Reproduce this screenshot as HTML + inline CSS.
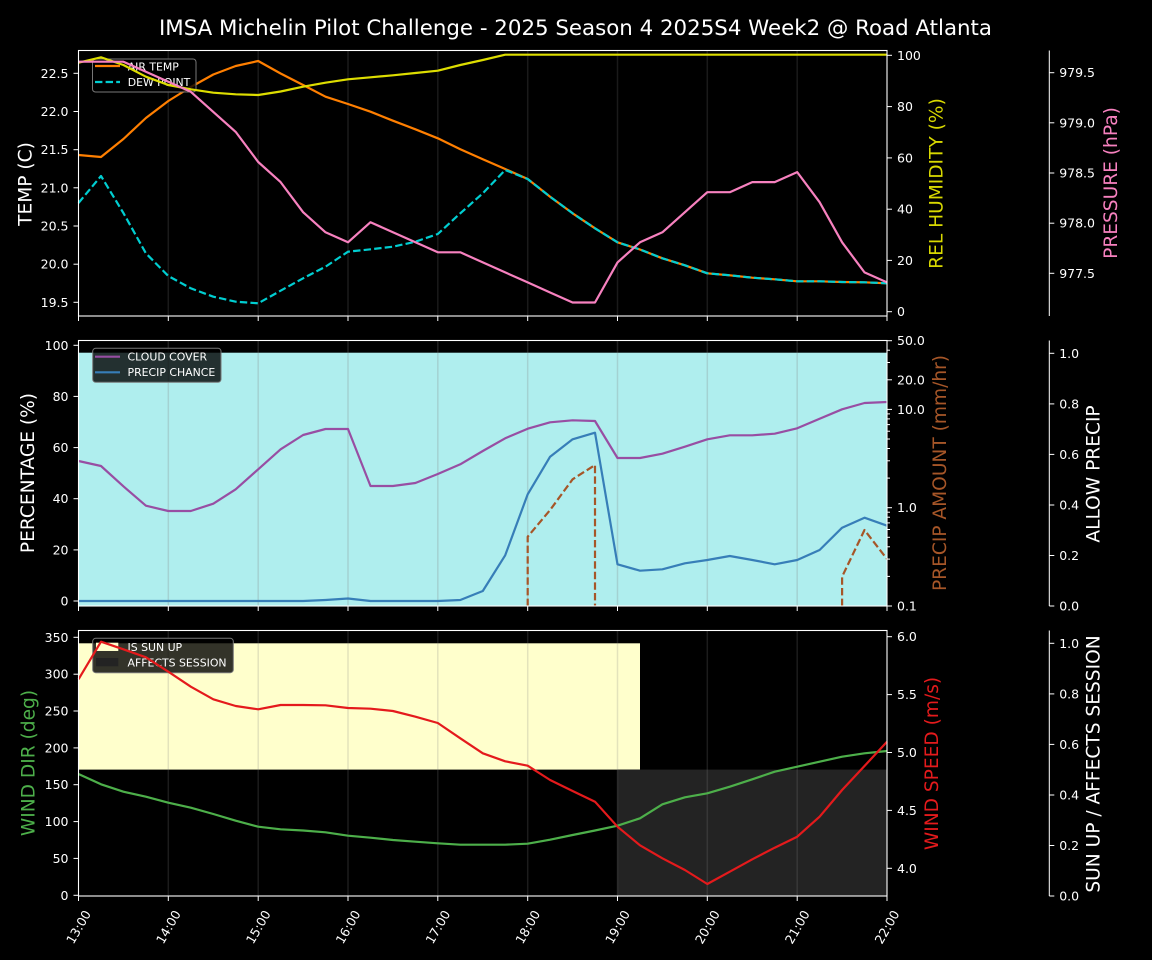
<!DOCTYPE html>
<html><head><meta charset="utf-8"><style>
html,body{margin:0;padding:0;background:#000;}
svg{display:block;font-family:"DejaVu Sans","Liberation Sans",sans-serif;}
</style></head><body>
<svg width="1152" height="960" viewBox="0 0 1152 960" xmlns="http://www.w3.org/2000/svg">
<rect x="0" y="0" width="1152" height="960" fill="#000"/>
<text x="575.5" y="35" font-size="21.5" fill="#fff" text-anchor="middle" textLength="833" lengthAdjust="spacingAndGlyphs">IMSA Michelin Pilot Challenge - 2025 Season 4 2025S4 Week2 @ Road Atlanta</text>

<!-- ============ PANEL 1 ============ -->
<g stroke="#808080" stroke-opacity="0.2" stroke-width="1.5">
<line x1="168.3" y1="50.5" x2="168.3" y2="316"/><line x1="258.2" y1="50.5" x2="258.2" y2="316"/><line x1="348" y1="50.5" x2="348" y2="316"/><line x1="437.8" y1="50.5" x2="437.8" y2="316"/><line x1="527.7" y1="50.5" x2="527.7" y2="316"/><line x1="617.5" y1="50.5" x2="617.5" y2="316"/><line x1="707.3" y1="50.5" x2="707.3" y2="316"/><line x1="797.2" y1="50.5" x2="797.2" y2="316"/>
</g>
<g fill="none" stroke-width="2.2" stroke-linejoin="round">
<polyline stroke="#ff7f00" points="78.5,155 101,157 123.4,139 145.9,118 168.3,101 190.8,87 213.3,74.5 235.7,66 258.2,61 280.6,73.5 303.1,85 325.5,96.7 348,104 370.5,111.7 392.9,120.7 415.4,129.3 437.8,138.3 460.3,149.3 482.8,159.3 505.2,169 527.7,179 550.1,196.7 572.6,213.3 595,228.3 617.5,242.3 640,249.5 662.4,258.3 684.9,265.3 707.3,273.3 729.8,275.3 752.3,277.7 774.7,279.3 797.2,281.3 819.6,281.3 842.1,282 864.5,282.3 887,283.3"/>
<polyline stroke="#00ced1" stroke-dasharray="7.4,3.2" points="78.5,203 101,176 123.4,213 145.9,253.3 168.3,276 190.8,288.3 213.3,296.7 235.7,301.7 258.2,303.3 280.6,290.7 303.1,278.3 325.5,266.7 348,251.7 370.5,249.3 392.9,246.7 415.4,241.7 437.8,234 460.3,213.3 482.8,193.3 505.2,170 527.7,179 550.1,196.7 572.6,213.3 595,228.3 617.5,242.3 640,249.5 662.4,258.3 684.9,265.3 707.3,273.3 729.8,275.3 752.3,277.7 774.7,279.3 797.2,281.3 819.6,281.3 842.1,282 864.5,282.3 887,283.3"/>
</g>
<!-- legend 1 -->
<rect x="92.5" y="59" width="103.5" height="33" rx="3" fill="#000" fill-opacity="0.8" stroke="#777" stroke-width="1"/>
<line x1="95" y1="66" x2="120" y2="66" stroke="#ff7f00" stroke-width="2.2"/>
<line x1="95" y1="82" x2="120" y2="82" stroke="#00ced1" stroke-width="2.2" stroke-dasharray="7.4,3.2"/>
<text x="127.7" y="70.5" font-size="10.9" fill="#fff">AIR TEMP</text>
<text x="127.7" y="86" font-size="10.9" fill="#fff">DEW POINT</text>
<g fill="none" stroke-width="2.2" stroke-linejoin="round">
<polyline stroke="#dddd00" points="78.5,62.7 101,57.3 123.4,65 145.9,76.7 168.3,85 190.8,89.3 213.3,92.7 235.7,94.3 258.2,95 280.6,91.5 303.1,86.7 325.5,82.7 348,79.3 370.5,77.3 392.9,75.3 415.4,73 437.8,70.7 460.3,65 482.8,60 505.2,54.7 887,54.7"/>
<polyline stroke="#f781bf" points="78.5,61.7 101,61.7 123.4,61.7 145.9,71.7 168.3,81.8 190.8,91.8 213.3,111.9 235.7,131.9 258.2,162 280.6,182.1 303.1,212.2 325.5,232.3 348,242.3 370.5,222.2 392.9,232.3 415.4,242.3 437.8,252.3 460.3,252.3 482.8,262.4 505.2,272.4 527.7,282.4 550.1,292.5 572.6,302.5 595,302.5 617.5,262.4 640,242.3 662.4,232.3 684.9,212.2 707.3,192.2 729.8,192.2 752.3,182.1 774.7,182.1 797.2,172.1 819.6,202.2 842.1,242.3 864.5,272.4 887,282.4"/>
</g>
<rect x="78.5" y="50.5" width="808.5" height="265.5" fill="none" stroke="#fff" stroke-width="1.1"/>
<g stroke="#fff" stroke-width="1">
<line x1="78.5" y1="316" x2="78.5" y2="321"/><line x1="168.3" y1="316" x2="168.3" y2="321"/><line x1="258.2" y1="316" x2="258.2" y2="321"/><line x1="348" y1="316" x2="348" y2="321"/><line x1="437.8" y1="316" x2="437.8" y2="321"/><line x1="527.7" y1="316" x2="527.7" y2="321"/><line x1="617.5" y1="316" x2="617.5" y2="321"/><line x1="707.3" y1="316" x2="707.3" y2="321"/><line x1="797.2" y1="316" x2="797.2" y2="321"/><line x1="887" y1="316" x2="887" y2="321"/>
<line x1="73.5" y1="73.3" x2="78.5" y2="73.3"/><line x1="73.5" y1="111.5" x2="78.5" y2="111.5"/><line x1="73.5" y1="149.7" x2="78.5" y2="149.7"/><line x1="73.5" y1="187.8" x2="78.5" y2="187.8"/><line x1="73.5" y1="226" x2="78.5" y2="226"/><line x1="73.5" y1="264.2" x2="78.5" y2="264.2"/><line x1="73.5" y1="302.3" x2="78.5" y2="302.3"/>
<line x1="887" y1="55.3" x2="892" y2="55.3"/><line x1="887" y1="106.6" x2="892" y2="106.6"/><line x1="887" y1="157.9" x2="892" y2="157.9"/><line x1="887" y1="209.2" x2="892" y2="209.2"/><line x1="887" y1="260.4" x2="892" y2="260.4"/><line x1="887" y1="311.7" x2="892" y2="311.7"/>
<line x1="1049.3" y1="50.5" x2="1049.3" y2="316"/>
<line x1="1049.3" y1="72.7" x2="1054.3" y2="72.7"/><line x1="1049.3" y1="122.8" x2="1054.3" y2="122.8"/><line x1="1049.3" y1="173" x2="1054.3" y2="173"/><line x1="1049.3" y1="223.2" x2="1054.3" y2="223.2"/><line x1="1049.3" y1="273.3" x2="1054.3" y2="273.3"/>
</g>
<g font-size="12.5" fill="#fff" text-anchor="end">
<text x="68.5" y="77.8">22.5</text><text x="68.5" y="116">22.0</text><text x="68.5" y="154.2">21.5</text><text x="68.5" y="192.3">21.0</text><text x="68.5" y="230.5">20.5</text><text x="68.5" y="268.7">20.0</text><text x="68.5" y="306.8">19.5</text>
</g>
<g font-size="12.5" fill="#fff">
<text x="897" y="59.8">100</text><text x="897" y="111.1">80</text><text x="897" y="162.4">60</text><text x="897" y="213.7">40</text><text x="897" y="264.9">20</text><text x="897" y="316.2">0</text>
<text x="1059.2" y="77.2">979.5</text><text x="1059.2" y="127.3">979.0</text><text x="1059.2" y="177.5">978.5</text><text x="1059.2" y="227.7">978.0</text><text x="1059.2" y="277.8">977.5</text>
</g>
<g font-size="18.6" text-anchor="middle">
<text transform="translate(31.5,184) rotate(-90)" fill="#fff">TEMP (C)</text>
<text transform="translate(942.5,183.5) rotate(-90)" fill="#d8d800">REL HUMIDITY (%)</text>
<text transform="translate(1117,183) rotate(-90)" fill="#f781bf">PRESSURE (hPa)</text>
</g>

<!-- ============ PANEL 2 ============ -->
<rect x="78.5" y="352.7" width="808.5" height="253.3" fill="#afeeee"/>
<g stroke="#808080" stroke-opacity="0.25" stroke-width="1.5">
<line x1="168.3" y1="340.5" x2="168.3" y2="606"/><line x1="258.2" y1="340.5" x2="258.2" y2="606"/><line x1="348" y1="340.5" x2="348" y2="606"/><line x1="437.8" y1="340.5" x2="437.8" y2="606"/><line x1="527.7" y1="340.5" x2="527.7" y2="606"/><line x1="617.5" y1="340.5" x2="617.5" y2="606"/><line x1="707.3" y1="340.5" x2="707.3" y2="606"/><line x1="797.2" y1="340.5" x2="797.2" y2="606"/>
</g>
<g fill="none" stroke-width="2.2" stroke-linejoin="round">
<polyline stroke="#984ea3" points="78.5,461 101,466 123.4,486.3 145.9,505.7 168.3,511 190.8,511 213.3,503.7 235.7,489.3 258.2,469.3 280.6,449.3 303.1,435 325.5,429 348,429 370.5,486 392.9,486 415.4,483 437.8,474 460.3,464.3 482.8,451 505.2,438.3 527.7,428.7 550.1,422.3 572.6,420.3 595,421 617.5,458 640,458 662.4,453.7 684.9,446.7 707.3,439.3 729.8,435.3 752.3,435.3 774.7,433.7 797.2,428.3 819.6,418.7 842.1,409.3 864.5,403 887,402"/>
<polyline stroke="#377eb8" points="78.5,601 101,601 123.4,601 145.9,601 168.3,601 190.8,601 213.3,601 235.7,601 258.2,601 280.6,601 303.1,601 325.5,600 348,598.5 370.5,601 392.9,601 415.4,601 437.8,601 460.3,600 482.8,591 505.2,555.3 527.7,494.3 550.1,456.7 572.6,439.3 595,432.7 617.5,564.3 640,570.7 662.4,569.3 684.9,563.3 707.3,560 729.8,556 752.3,560 774.7,564.3 797.2,560 819.6,550 842.1,527.7 864.5,517.7 887,525.7"/>
<polyline stroke="#a65628" stroke-dasharray="7.4,3.2" points="527.7,606 527.7,536.7 550.1,510 572.6,479.3 595,465 595,606"/>
<polyline stroke="#a65628" stroke-dasharray="7.4,3.2" points="842.1,606 842.1,576.7 864.5,530 887,559"/>
</g>
<!-- legend 2 -->
<rect x="92.7" y="348.3" width="128.3" height="34" rx="3" fill="#000" fill-opacity="0.8" stroke="#777" stroke-width="1"/>
<line x1="95" y1="356.7" x2="120" y2="356.7" stroke="#984ea3" stroke-width="2.2"/>
<line x1="95" y1="372.3" x2="120" y2="372.3" stroke="#377eb8" stroke-width="2.2"/>
<text x="127.5" y="360.3" font-size="10.9" fill="#fff">CLOUD COVER</text>
<text x="127.5" y="376" font-size="10.9" fill="#fff">PRECIP CHANCE</text>
<rect x="78.5" y="340.5" width="808.5" height="265.5" fill="none" stroke="#fff" stroke-width="1.1"/>
<g stroke="#fff" stroke-width="1">
<line x1="78.5" y1="606" x2="78.5" y2="611"/><line x1="168.3" y1="606" x2="168.3" y2="611"/><line x1="258.2" y1="606" x2="258.2" y2="611"/><line x1="348" y1="606" x2="348" y2="611"/><line x1="437.8" y1="606" x2="437.8" y2="611"/><line x1="527.7" y1="606" x2="527.7" y2="611"/><line x1="617.5" y1="606" x2="617.5" y2="611"/><line x1="707.3" y1="606" x2="707.3" y2="611"/><line x1="797.2" y1="606" x2="797.2" y2="611"/><line x1="887" y1="606" x2="887" y2="611"/>
<line x1="73.5" y1="345.3" x2="78.5" y2="345.3"/><line x1="73.5" y1="396.4" x2="78.5" y2="396.4"/><line x1="73.5" y1="447.6" x2="78.5" y2="447.6"/><line x1="73.5" y1="498.7" x2="78.5" y2="498.7"/><line x1="73.5" y1="549.9" x2="78.5" y2="549.9"/><line x1="73.5" y1="601" x2="78.5" y2="601"/>
<line x1="887" y1="340.7" x2="892" y2="340.7"/><line x1="887" y1="379.8" x2="892" y2="379.8"/><line x1="887" y1="409.4" x2="892" y2="409.4"/><line x1="887" y1="507.7" x2="892" y2="507.7"/><line x1="887" y1="606" x2="892" y2="606"/>
<line x1="887" y1="576.4" x2="890" y2="576.4"/><line x1="887" y1="559.1" x2="890" y2="559.1"/><line x1="887" y1="546.8" x2="890" y2="546.8"/><line x1="887" y1="537.3" x2="890" y2="537.3"/><line x1="887" y1="529.5" x2="890" y2="529.5"/><line x1="887" y1="522.9" x2="890" y2="522.9"/><line x1="887" y1="517.2" x2="890" y2="517.2"/><line x1="887" y1="512.2" x2="890" y2="512.2"/>
<line x1="887" y1="478.1" x2="890" y2="478.1"/><line x1="887" y1="460.8" x2="890" y2="460.8"/><line x1="887" y1="448.5" x2="890" y2="448.5"/><line x1="887" y1="439" x2="890" y2="439"/><line x1="887" y1="431.2" x2="890" y2="431.2"/><line x1="887" y1="424.6" x2="890" y2="424.6"/><line x1="887" y1="418.9" x2="890" y2="418.9"/><line x1="887" y1="413.9" x2="890" y2="413.9"/>
<line x1="887" y1="362.5" x2="890" y2="362.5"/><line x1="887" y1="350.2" x2="890" y2="350.2"/>
<line x1="1049.3" y1="340.5" x2="1049.3" y2="606"/>
<line x1="1049.3" y1="606" x2="1054.3" y2="606"/><line x1="1049.3" y1="555.5" x2="1054.3" y2="555.5"/><line x1="1049.3" y1="505" x2="1054.3" y2="505"/><line x1="1049.3" y1="454.4" x2="1054.3" y2="454.4"/><line x1="1049.3" y1="403.9" x2="1054.3" y2="403.9"/><line x1="1049.3" y1="353.3" x2="1054.3" y2="353.3"/>
</g>
<g font-size="12.5" fill="#fff" text-anchor="end">
<text x="68.5" y="349.8">100</text><text x="68.5" y="400.9">80</text><text x="68.5" y="452.1">60</text><text x="68.5" y="503.2">40</text><text x="68.5" y="554.4">20</text><text x="68.5" y="605.5">0</text>
</g>
<g font-size="12.5" fill="#fff">
<text x="897" y="345.2">50.0</text><text x="897" y="384.3">20.0</text><text x="897" y="413.9">10.0</text><text x="897" y="512.2">1.0</text><text x="897" y="610.5">0.1</text>
<text x="1059.2" y="610.5">0.0</text><text x="1059.2" y="560">0.2</text><text x="1059.2" y="509.5">0.4</text><text x="1059.2" y="458.9">0.6</text><text x="1059.2" y="408.4">0.8</text><text x="1059.2" y="357.8">1.0</text>
</g>
<g font-size="18.6" text-anchor="middle">
<text transform="translate(34,473) rotate(-90)" fill="#fff">PERCENTAGE (%)</text>
<text transform="translate(946,473) rotate(-90)" fill="#a65628">PRECIP AMOUNT (mm/hr)</text>
<text transform="translate(1099.5,474) rotate(-90)" fill="#fff">ALLOW PRECIP</text>
</g>

<!-- ============ PANEL 3 ============ -->
<rect x="78.5" y="643.3" width="561.5" height="126.3" fill="#ffffcc"/>
<rect x="617.5" y="769.6" width="269.5" height="126.4" fill="#232323"/>
<g stroke="#808080" stroke-opacity="0.22" stroke-width="1.5">
<line x1="168.3" y1="630.5" x2="168.3" y2="896"/><line x1="258.2" y1="630.5" x2="258.2" y2="896"/><line x1="348" y1="630.5" x2="348" y2="896"/><line x1="437.8" y1="630.5" x2="437.8" y2="896"/><line x1="527.7" y1="630.5" x2="527.7" y2="896"/><line x1="617.5" y1="630.5" x2="617.5" y2="896"/><line x1="707.3" y1="630.5" x2="707.3" y2="896"/><line x1="797.2" y1="630.5" x2="797.2" y2="896"/>
</g>
<polyline fill="none" stroke="#4daf4a" stroke-width="2.2" stroke-linejoin="round" points="78.5,774 101,784.3 123.4,791.7 145.9,796.7 168.3,802.7 190.8,807.7 213.3,814 235.7,820.7 258.2,826.7 280.6,829.3 303.1,830.5 325.5,832.3 348,835.7 370.5,837.7 392.9,840 415.4,841.7 437.8,843.3 460.3,844.7 482.8,844.7 505.2,844.7 527.7,843.7 550.1,839.7 572.6,835 595,830.5 617.5,825.7 640,818.3 662.4,804.3 684.9,797.3 707.3,793.3 729.8,786.7 752.3,779.3 774.7,771.7 797.2,766.7 819.6,761.7 842.1,756.7 864.5,753.3 887,751"/>
<!-- legend 3 -->
<rect x="92.7" y="638.3" width="140.6" height="34.4" rx="3" fill="#000" fill-opacity="0.8" stroke="#777" stroke-width="1"/>
<rect x="96" y="642.7" width="22.3" height="8.3" fill="#ffffcc"/>
<rect x="96" y="658" width="22.3" height="8.3" fill="#232323"/>
<text x="127.5" y="651" font-size="10.9" fill="#fff">IS SUN UP</text>
<text x="127.5" y="666.3" font-size="10.9" fill="#fff">AFFECTS SESSION</text>
<polyline fill="none" stroke="#e41a1c" stroke-width="2.2" stroke-linejoin="round" points="78.5,679.3 101,641.7 123.4,649.3 145.9,657.3 168.3,671.7 190.8,686.7 213.3,699.3 235.7,706 258.2,709.3 280.6,705 303.1,705 325.5,705.3 348,708 370.5,708.7 392.9,711 415.4,716.7 437.8,723 460.3,738.3 482.8,753.3 505.2,761.3 527.7,765.7 550.1,780 572.6,791 595,801.7 617.5,826.7 640,845.3 662.4,858.3 684.9,870 707.3,884 729.8,871.7 752.3,859.3 774.7,847.7 797.2,836.7 819.6,816.7 842.1,790 864.5,766 887,741.7"/>
<rect x="78.5" y="630.5" width="808.5" height="265.5" fill="none" stroke="#fff" stroke-width="1.1"/>
<g stroke="#fff" stroke-width="1">
<line x1="78.5" y1="896" x2="78.5" y2="901"/><line x1="168.3" y1="896" x2="168.3" y2="901"/><line x1="258.2" y1="896" x2="258.2" y2="901"/><line x1="348" y1="896" x2="348" y2="901"/><line x1="437.8" y1="896" x2="437.8" y2="901"/><line x1="527.7" y1="896" x2="527.7" y2="901"/><line x1="617.5" y1="896" x2="617.5" y2="901"/><line x1="707.3" y1="896" x2="707.3" y2="901"/><line x1="797.2" y1="896" x2="797.2" y2="901"/><line x1="887" y1="896" x2="887" y2="901"/>
<line x1="73.5" y1="637.3" x2="78.5" y2="637.3"/><line x1="73.5" y1="674.2" x2="78.5" y2="674.2"/><line x1="73.5" y1="711" x2="78.5" y2="711"/><line x1="73.5" y1="747.9" x2="78.5" y2="747.9"/><line x1="73.5" y1="784.7" x2="78.5" y2="784.7"/><line x1="73.5" y1="821.6" x2="78.5" y2="821.6"/><line x1="73.5" y1="858.4" x2="78.5" y2="858.4"/><line x1="73.5" y1="895.3" x2="78.5" y2="895.3"/>
<line x1="887" y1="636.7" x2="892" y2="636.7"/><line x1="887" y1="694.6" x2="892" y2="694.6"/><line x1="887" y1="752.5" x2="892" y2="752.5"/><line x1="887" y1="810.4" x2="892" y2="810.4"/><line x1="887" y1="868.3" x2="892" y2="868.3"/>
<line x1="1049.3" y1="630.5" x2="1049.3" y2="896"/>
<line x1="1049.3" y1="896" x2="1054.3" y2="896"/><line x1="1049.3" y1="845.5" x2="1054.3" y2="845.5"/><line x1="1049.3" y1="795" x2="1054.3" y2="795"/><line x1="1049.3" y1="744.4" x2="1054.3" y2="744.4"/><line x1="1049.3" y1="693.9" x2="1054.3" y2="693.9"/><line x1="1049.3" y1="643.3" x2="1054.3" y2="643.3"/>
</g>
<g font-size="12.5" fill="#fff" text-anchor="end">
<text x="68.5" y="641.8">350</text><text x="68.5" y="678.7">300</text><text x="68.5" y="715.5">250</text><text x="68.5" y="752.4">200</text><text x="68.5" y="789.2">150</text><text x="68.5" y="826.1">100</text><text x="68.5" y="862.9">50</text><text x="68.5" y="899.8">0</text>
</g>
<g font-size="12.5" fill="#fff">
<text x="897" y="641.2">6.0</text><text x="897" y="699.1">5.5</text><text x="897" y="757">5.0</text><text x="897" y="814.9">4.5</text><text x="897" y="872.8">4.0</text>
<text x="1059.2" y="900.5">0.0</text><text x="1059.2" y="850">0.2</text><text x="1059.2" y="799.5">0.4</text><text x="1059.2" y="748.9">0.6</text><text x="1059.2" y="698.4">0.8</text><text x="1059.2" y="647.8">1.0</text>
</g>
<g font-size="12.5" fill="#fff" text-anchor="middle">
<text transform="translate(78.5,927) rotate(-60)" y="4.5">13:00</text>
<text transform="translate(168.3,927) rotate(-60)" y="4.5">14:00</text>
<text transform="translate(258.2,927) rotate(-60)" y="4.5">15:00</text>
<text transform="translate(348,927) rotate(-60)" y="4.5">16:00</text>
<text transform="translate(437.8,927) rotate(-60)" y="4.5">17:00</text>
<text transform="translate(527.7,927) rotate(-60)" y="4.5">18:00</text>
<text transform="translate(617.5,927) rotate(-60)" y="4.5">19:00</text>
<text transform="translate(707.3,927) rotate(-60)" y="4.5">20:00</text>
<text transform="translate(797.2,927) rotate(-60)" y="4.5">21:00</text>
<text transform="translate(887,927) rotate(-60)" y="4.5">22:00</text>
</g>
<g font-size="18.6" text-anchor="middle">
<text transform="translate(34.3,763) rotate(-90)" fill="#4daf4a">WIND DIR (deg)</text>
<text transform="translate(938,763.5) rotate(-90)" fill="#e41a1c">WIND SPEED (m/s)</text>
<text transform="translate(1099.3,764) rotate(-90)" fill="#fff">SUN UP / AFFECTS SESSION</text>
</g>
</svg>
</body></html>
